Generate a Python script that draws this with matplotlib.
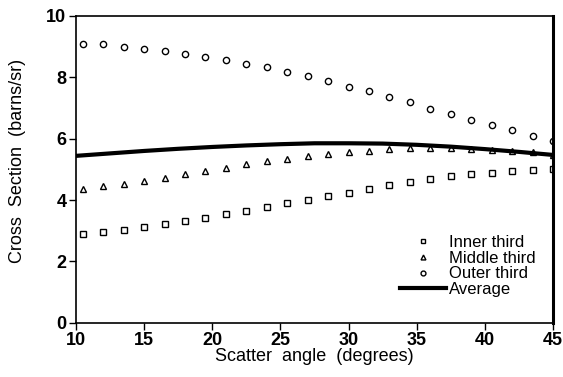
import matplotlib
matplotlib.use("Agg")
import matplotlib.pyplot as plt
from matplotlib.lines import Line2D

angles = [10.5, 12.0, 13.5, 15.0, 16.5, 18.0, 19.5, 21.0, 22.5, 24.0, 25.5, 27.0,
          28.5, 30.0, 31.5, 33.0, 34.5, 36.0, 37.5, 39.0, 40.5, 42.0, 43.5, 45.0]
inner = [2.88, 2.95, 3.03, 3.11, 3.22, 3.32, 3.40, 3.53, 3.63, 3.77, 3.89, 4.00,
         4.13, 4.22, 4.36, 4.48, 4.58, 4.68, 4.78, 4.84, 4.89, 4.94, 4.97, 5.00]
middle = [4.35, 4.47, 4.53, 4.63, 4.73, 4.84, 4.94, 5.03, 5.16, 5.26, 5.34, 5.44,
          5.50, 5.57, 5.61, 5.65, 5.69, 5.70, 5.70, 5.67, 5.63, 5.60, 5.56, 5.47]
outer = [9.08, 9.08, 8.99, 8.92, 8.85, 8.76, 8.66, 8.56, 8.45, 8.33, 8.18, 8.04,
         7.88, 7.70, 7.54, 7.35, 7.18, 6.97, 6.80, 6.62, 6.44, 6.27, 6.09, 5.92]
avg_x = [10, 12.5, 15, 17.5, 20, 22.5, 25, 27.5, 30, 32.5, 35, 37.5, 40, 42.5, 45]
avg_y = [5.44, 5.52, 5.60, 5.67, 5.73, 5.78, 5.82, 5.85, 5.85, 5.84, 5.80, 5.74, 5.66, 5.57, 5.47]

xticks = [10, 15, 20, 25, 30, 35, 40, 45]
yticks = [0, 2, 4, 6, 8, 10]
labels = ["Inner third", "Middle third", "Outer third", "Average"]

plt.rcParams['font.family'] = ['Liberation Sans', 'DejaVu Sans']

fig = plt.figure(figsize=(5.63, 3.77), dpi=100)
ax = fig.add_axes([76/563, 1 - 322.7/377, 477/563, 306.7/377])

mk = dict(linestyle='none', markerfacecolor='white', markeredgecolor='black',
          markeredgewidth=1.0)
ax.plot(angles, inner, marker='s', markersize=4.5, **mk)
ax.plot(angles, middle, marker='^', markersize=4.5, **mk)
ax.plot(angles, outer, marker='o', markersize=4.5, **mk)
ax.plot(avg_x, avg_y, color='black', linewidth=3.0, solid_capstyle='butt')

ax.set_xlim(10, 45)
ax.set_ylim(0, 10)
ax.set_xticks(xticks)
ax.set_yticks(yticks)
ax.set_xticklabels([str(t) for t in xticks], fontsize=13, fontweight='bold')
ax.set_yticklabels([str(t) for t in yticks], fontsize=13, fontweight='bold')
ax.tick_params(direction='out', length=5, width=1, top=False, right=False)
ax.tick_params(axis='x', pad=2)
ax.tick_params(axis='y', pad=2)

for s in ['left', 'bottom', 'top']:
    ax.spines[s].set_linewidth(1.2)
ax.spines['right'].set_linewidth(2.2)

ax.set_xlabel("Scatter  angle  (degrees)", fontsize=13, labelpad=-1)
ax.set_ylabel("Cross  Section  (barns/sr)", fontsize=13)
ax.yaxis.set_label_coords(-0.105, 0.527)

handles = [
    Line2D([], [], marker='s', markersize=3.5, **mk),
    Line2D([], [], marker='^', markersize=3.5, **mk),
    Line2D([], [], marker='o', markersize=3.5, **mk),
    Line2D([], [], color='black', linewidth=3.0),
]
ax.legend(handles, labels, loc='upper left', bbox_to_anchor=(0.679, 0.287),
          frameon=False, fontsize=12, handlelength=2.75, handletextpad=0.2,
          labelspacing=0.05, borderpad=0, borderaxespad=0)

fig.savefig("out.png", dpi=100)
